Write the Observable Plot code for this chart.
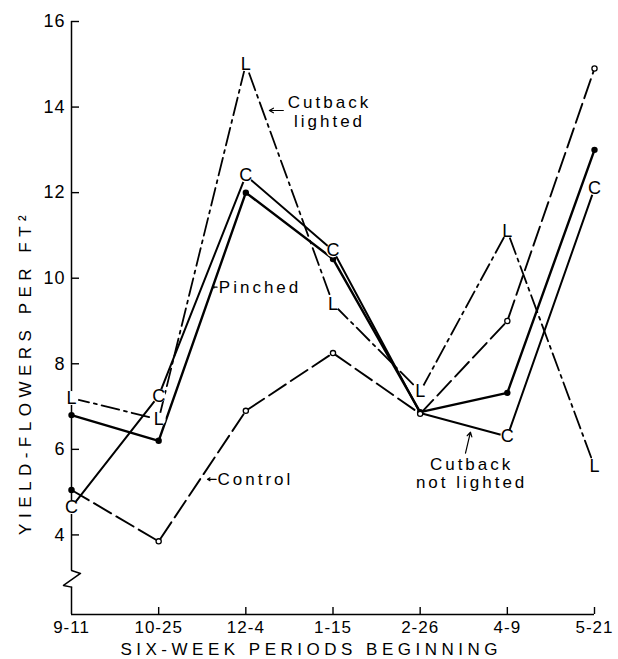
<!DOCTYPE html>
<html><head><meta charset="utf-8">
<script src="https://cdn.jsdelivr.net/npm/d3@7"></script>
<script src="https://cdn.jsdelivr.net/npm/@observablehq/plot@0.6"></script>
<style>
body{margin:0;background:#fff}
#chart svg{font-family:"Liberation Sans",Arial,sans-serif;background:#fff}
</style></head><body><div id="chart"></div>
<script>
const periods = ["9-11","10-25","12-4","1-15","2-26","4-9","5-21"];
const pinched = [6.8, 6.2, 12.0, 10.45, 6.87, 7.32, 13.0];
const cutbackNotLighted = [4.65, 7.25, 12.4, 10.65, 6.85, 6.3, 12.1];
const cutbackLighted = [7.2, 6.7, 15.0, 9.4, 7.35, 11.1, 5.6];
const control = [5.05, 3.85, 6.9, 8.25, 6.83, 9.0, 14.9];
const controlFilled = [true, false, false, false, false, false, false];
const cMarkerShown = [true, true, true, true, false, true, true];
const yTicks = [4, 6, 8, 10, 12, 14, 16];
const yMin = 2.14;
const yLabel = "YIELD-FLOWERS PER FT²";
const xLabel = "SIX-WEEK PERIODS BEGINNING";
// axis-break zigzag (x in period index, y in value units)
const breakX = [0, 0.103, -0.092, 0];
const breakY = [3.17, 3.10, 2.82, 2.78];
// annotation labels
const noteText = ["Cutback\nlighted", "Pinched", "Control", "Cutback\nnot lighted"];
const noteX = [2.96, 1.69, 1.675, 4.59];
const noteY = [13.9, 9.79, 5.3, 5.45];
const noteAnchor = ["middle", "start", "start", "middle"];
const arrowX1 = [2.43, 1.67, 1.66, 4.52];
const arrowY1 = [13.92, 9.79, 5.3, 5.91];
const arrowX2 = [2.27, 1.62, 1.56, 4.577];
const arrowY2 = [13.92, 9.79, 5.3, 6.4];

const W = 618, H = 659, mL = 71, mR = 24, mT = 21, mB = 45;
const xUnitPerPx = 6 / (W - mL - mR);
const yUnitPerPx = (16 - yMin) / (H - mT - mB);

const toRows = arr => arr.map((v, i) => ({i, v}));
const notes = noteText.map((t, k) => ({t, x: noteX[k], y: noteY[k], a: noteAnchor[k]}));
const arrows = noteText.map((t, k) => ({x1: arrowX1[k], y1: arrowY1[k], x2: arrowX2[k], y2: arrowY2[k]}));
const breakRows = breakX.map((x, k) => ({x, y: breakY[k]}));
const cRows = toRows(cutbackNotLighted).filter(d => cMarkerShown[d.i]);
const lRows = toRows(cutbackLighted);
const controlRows = toRows(control).map(d => ({...d, f: controlFilled[d.i] ? "black" : "white"}));

const plot = Plot.plot({
  width: W,
  height: H,
  marginLeft: mL,
  marginRight: mR,
  marginTop: mT,
  marginBottom: mB,
  x: {type: "linear", domain: [0, 6]},
  y: {type: "linear", domain: [yMin, 16]},
  style: {fontFamily: "Liberation Sans, Arial, sans-serif", fontSize: "16px", color: "black"},
  marks: [
    Plot.axisY({ticks: yTicks, tickSize: 0, tickPadding: 6, label: null, fontSize: 18}),
    Plot.axisX({ticks: d3.range(periods.length), tickFormat: i => periods[i], tickSize: 0, tickPadding: 6, label: null, fontSize: 17}),
    // inward tick marks
    Plot.ruleY(yTicks, {x1: 0, x2: 8 * xUnitPerPx, stroke: "black", strokeWidth: 1.4}),
    Plot.ruleX(d3.range(1, periods.length), {y1: yMin, y2: yMin + 7 * yUnitPerPx, stroke: "black", strokeWidth: 1.4}),
    // axis lines with break
    Plot.ruleY([yMin], {stroke: "black", strokeWidth: 1.5}),
    Plot.ruleX([0], {y1: 3.17, y2: 16, stroke: "black", strokeWidth: 1.5}),
    Plot.ruleX([0], {y1: yMin, y2: 2.78, stroke: "black", strokeWidth: 1.5}),
    Plot.line(breakRows, {x: "x", y: "y", stroke: "black", strokeWidth: 1.5}),
    Plot.text([yLabel], {frameAnchor: "left", y: () => 7.8, dx: -46, rotate: -90, textAnchor: "middle", fontSize: 17}),
    Plot.text([xLabel], {frameAnchor: "bottom", x: () => 2.75, dy: 40, textAnchor: "middle", fontSize: 17}),
    // Control
    Plot.line(toRows(control), {x: "i", y: "v", stroke: "black", strokeWidth: 1.9, strokeDasharray: "20,6"}),
    // Cutback lighted
    Plot.line(lRows, {x: "i", y: "v", stroke: "black", strokeWidth: 1.8, strokeDasharray: "18,5,3,5"}),
    // Cutback not lighted
    Plot.line(toRows(cutbackNotLighted), {x: "i", y: "v", stroke: "black", strokeWidth: 2}),
    // Pinched
    Plot.line(toRows(pinched), {x: "i", y: "v", stroke: "black", strokeWidth: 2.4}),
    Plot.dot(toRows(pinched), {x: "i", y: "v", r: 3.2, fill: "black"}),
    Plot.dot(controlRows, {x: "i", y: "v", r: 2.6, fill: "f", stroke: "black", strokeWidth: 1.3}),
    // letter markers: blank the line under each letter, then draw it
    Plot.dot(cRows, {x: "i", y: "v", r: 7, fill: "white"}),
    Plot.dot(lRows, {x: "i", y: "v", r: 7, fill: "white"}),
    Plot.text(cRows, {x: "i", y: "v", text: () => "C", fontSize: 18, fill: "black"}),
    Plot.text(lRows, {x: "i", y: "v", text: () => "L", fontSize: 18, fill: "black"}),
    Plot.arrow(arrows, {x1: "x1", y1: "y1", x2: "x2", y2: "y2", stroke: "black", strokeWidth: 1.2, headLength: 6}),
    Plot.text(notes.filter(d => d.a === "middle"), {x: "x", y: "y", text: "t", textAnchor: "middle", fontSize: 17, lineHeight: 1.1, fill: "black"}),
    Plot.text(notes.filter(d => d.a === "start"), {x: "x", y: "y", text: "t", textAnchor: "start", fontSize: 17, fill: "black"})
  ]
});
// letter spacing like the hand-lettered original
const spacing = new Map([[yLabel, 5.5], [xLabel, 4.5]]);
noteText.forEach(t => spacing.set(t.replace("\n", ""), 3));
periods.forEach(p => spacing.set(p, 1));
yTicks.forEach(t => spacing.set(String(t), 1));
plot.querySelectorAll("text").forEach(el => {
  const s = spacing.get(el.textContent);
  if (s != null) el.style.letterSpacing = s + "px";
});
document.getElementById("chart").appendChild(plot);
</script>
</body></html>
